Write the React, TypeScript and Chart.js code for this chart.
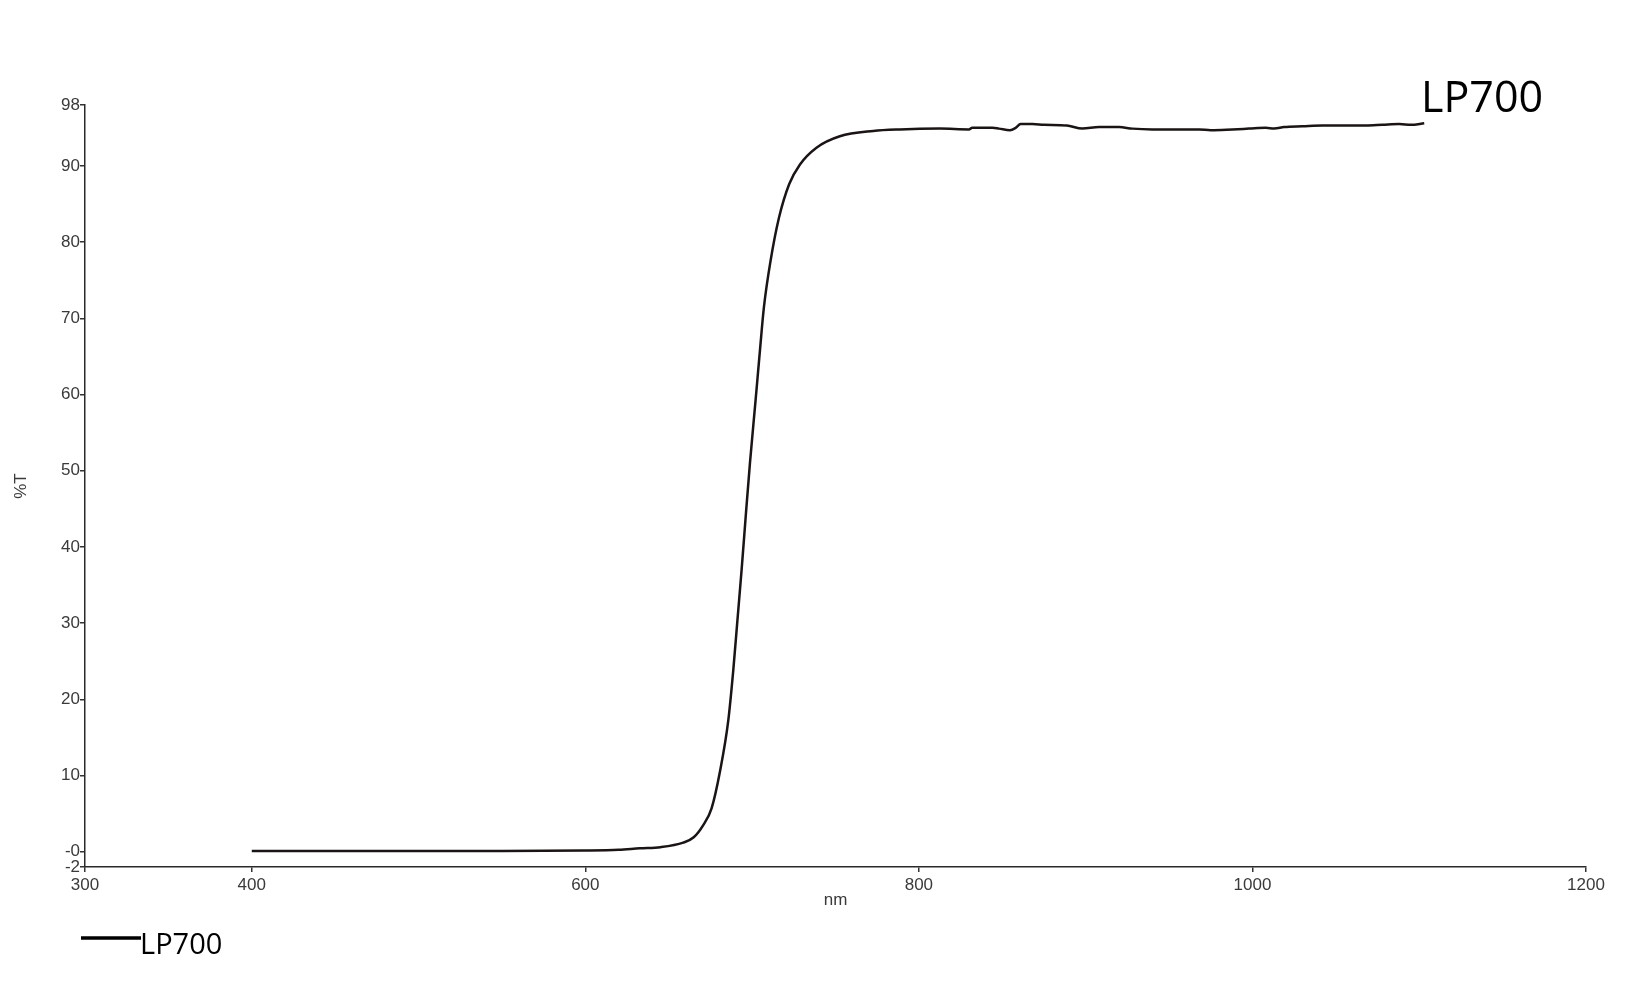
import React, { useEffect, useRef } from "react";
import { Chart, registerables } from "chart.js";

Chart.register(...registerables);

const seriesName = "LP700";
const wavelengths = [
  400, 450, 500, 550, 600, 620, 632.7, 645, 658.7, 665, 670.7, 675.7, 680.7, 685.7,
  688.7, 691.2, 693.7, 696.3, 698.7, 702.1, 704.7, 707.1, 711.1, 716.1, 722.2, 728.7, 738.6,
  752.6, 772.6, 788.6, 812.6, 830, 832, 844, 848, 854.6, 858, 861, 868, 875, 888.7,
  898, 908, 920, 928, 940, 950, 968, 975, 988, 998, 1008, 1013, 1019, 1030, 1042,
  1068, 1078, 1088, 1095, 1103,
];
const transmittance = [
  0.1, 0.1, 0.1, 0.1, 0.15, 0.25, 0.45, 0.6, 1.2, 1.9, 3.5, 5.7, 10.5, 17.2,
  23.8, 30.4, 37.0, 44.4, 51.0, 59.3, 65.8, 71.5, 77.6, 83.2, 87.6, 90.2, 92.4,
  93.9, 94.6, 94.8, 94.9, 94.8, 95.0, 95.0, 94.9, 94.7, 95.0, 95.5, 95.5, 95.4, 95.3,
  94.9, 95.1, 95.1, 94.9, 94.8, 94.8, 94.8, 94.7, 94.8, 94.9, 95.0, 94.9, 95.1, 95.2, 95.3,
  95.3, 95.4, 95.5, 95.4, 95.6,
];
const xTicks = [300, 400, 600, 800, 1000, 1200];
const yTicks = [-2, 0, 10, 20, 30, 40, 50, 60, 70, 80, 90, 98];
const xTitle = "nm";
const yTitle = "%T";

const textPlugin = {
  id: "lpText",
  afterDraw(chart: any) {
    const ctx = chart.ctx as CanvasRenderingContext2D;
    ctx.save();
    // legend
    ctx.strokeStyle = "#000000";
    ctx.lineWidth = 3.5;
    ctx.beginPath();
    ctx.moveTo(81, 938);
    ctx.lineTo(141, 938);
    ctx.stroke();
    ctx.fillStyle = "#000000";
    ctx.textBaseline = "alphabetic";
    ctx.textAlign = "left";
    ctx.font = "29px 'Open Sans'";
    ctx.fillText(seriesName, 140, 954);
    // annotation at end of curve
    ctx.font = "43px 'Open Sans'";
    ctx.fillText(seriesName, 1421, 112);
    ctx.restore();
  },
};

export default function App() {
  const ref = useRef<HTMLCanvasElement | null>(null);

  useEffect(() => {
    if (!ref.current) return;
    const tickFont = { family: "'Liberation Sans', Arial, sans-serif", size: 17 };
    const chart = new Chart(ref.current, {
      type: "line",
      data: {
        datasets: [
          {
            label: seriesName,
            data: wavelengths.map((x, i) => ({ x, y: transmittance[i] })),
            borderColor: "#1b1414",
            borderWidth: 2.5,
            pointRadius: 0,
            fill: false,
            cubicInterpolationMode: "monotone",
          },
        ],
      },
      options: {
        animation: false,
        responsive: false,
        devicePixelRatio: 1,
        layout: { padding: { top: 105, right: 45, left: 0, bottom: 74 } },
        plugins: {
          legend: { display: false },
          tooltip: { enabled: false },
        },
        scales: {
          x: {
            type: "linear",
            min: 300,
            max: 1200,
            afterBuildTicks: (scale: any) => {
              scale.ticks = xTicks.map((v) => ({ value: v }));
            },
            afterFit: (scale: any) => {
              scale.height = 46;
            },
            ticks: {
              autoSkip: false,
              maxRotation: 0,
              padding: 3,
              color: "#3a3a3a",
              font: tickFont,
              callback: (v: any) => String(v),
            },
            grid: {
              display: true,
              drawOnChartArea: false,
              drawTicks: true,
              tickLength: 5,
              color: "#333333",
              lineWidth: 1.5,
            },
            border: { display: true, color: "#2a2a2a", width: 1.5 },
            title: {
              display: true,
              text: xTitle,
              color: "#3a3a3a",
              font: tickFont,
              padding: { top: 0, bottom: 2 },
            },
          },
          y: {
            type: "linear",
            min: -2,
            max: 98,
            afterBuildTicks: (scale: any) => {
              scale.ticks = yTicks.map((v) => ({ value: v }));
            },
            afterFit: (scale: any) => {
              scale.width = 85;
            },
            ticks: {
              autoSkip: false,
              padding: 0,
              color: "#3a3a3a",
              font: tickFont,
              callback: (v: any) => (v === 0 ? "-0" : String(v)),
            },
            grid: {
              display: true,
              drawOnChartArea: false,
              drawTicks: true,
              tickLength: 5,
              color: "#333333",
              lineWidth: 1.5,
            },
            border: { display: true, color: "#2a2a2a", width: 1.5 },
            title: {
              display: true,
              text: yTitle,
              color: "#3a3a3a",
              font: tickFont,
              padding: { top: 11, bottom: 0 },
            },
          },
        },
      },
      plugins: [textPlugin],
    } as any);
    return () => chart.destroy();
  }, []);

  return (
    <div style={{ position: "absolute", left: 0, top: 0, width: 1631, height: 987, background: "#ffffff" }}>
      <canvas ref={ref} width={1631} height={987} style={{ display: "block" }} />
    </div>
  );
}
